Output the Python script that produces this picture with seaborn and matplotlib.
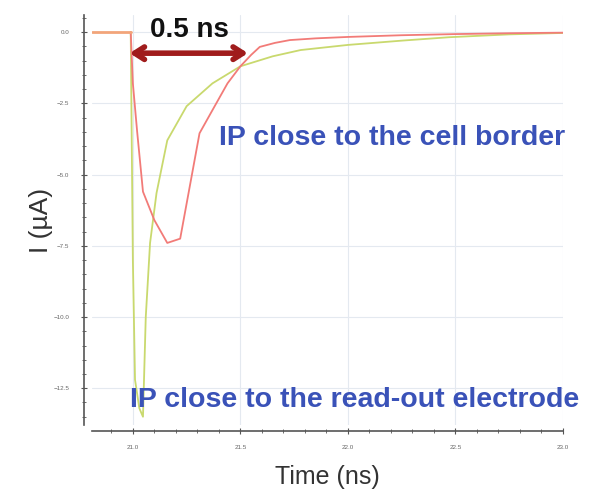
import matplotlib
matplotlib.use("Agg")
import matplotlib.pyplot as plt
from matplotlib.ticker import MultipleLocator
import seaborn as sns

# time (ns) and current (uA)
base_t = [20.81, 20.99]
base_i = [0.0, 0.0]

border_t = [20.99, 21.0, 21.02, 21.047, 21.1, 21.16, 21.22, 21.265, 21.31, 21.37, 21.44,
            21.5, 21.55, 21.59, 21.66, 21.73, 21.85, 22.0, 22.25, 22.5, 22.75, 23.0]
border_i = [0.0, -1.8, -3.5, -5.6, -6.6, -7.4, -7.25, -5.4, -3.55, -2.74, -1.8,
            -1.2, -0.8, -0.52, -0.38, -0.28, -0.22, -0.17, -0.11, -0.07, -0.04, -0.02]

electrode_t = [20.99, 21.0, 21.01, 21.03, 21.047, 21.06, 21.08, 21.11, 21.16, 21.25, 21.37,
               21.5, 21.65, 21.78, 22.0, 22.25, 22.47, 22.75, 23.0]
electrode_i = [0.0, -8.0, -12.2, -13.2, -13.5, -10.0, -7.4, -5.65, -3.8, -2.6, -1.8,
               -1.2, -0.85, -0.63, -0.45, -0.3, -0.18, -0.08, -0.03]

sns.set_style("white")
plt.rcParams["font.family"] = ["Liberation Sans", "DejaVu Sans"]

fig = plt.figure(figsize=(6.07, 4.94), dpi=100)
ax = fig.add_axes([92 / 607, 69 / 494, 471 / 607, 410 / 494])

sns.lineplot(x=electrode_t, y=electrode_i, ax=ax, color="#c9d96e", lw=1.3, sort=False)
sns.lineplot(x=border_t, y=border_i, ax=ax, color="#f27b78", lw=1.3, sort=False)
sns.lineplot(x=base_t, y=base_i, ax=ax, color="#f2a57a", lw=2, sort=False)

ax.set_xlim(20.81, 23.0)
ax.set_ylim(-13.79, 0.6)
ax.xaxis.set_major_locator(MultipleLocator(0.5))
ax.xaxis.set_minor_locator(MultipleLocator(0.1))
ax.yaxis.set_major_locator(MultipleLocator(2.5))
ax.yaxis.set_minor_locator(MultipleLocator(0.5))
ax.grid(True, which="major", color="#e4e9f0", lw=0.8)
ax.tick_params(which="major", direction="inout", length=5, width=0.8, pad=8,
               labelsize=4.5, labelcolor="#666666", color="#555555", bottom=True, left=True)
ax.tick_params(which="minor", direction="inout", length=3, width=0.6,
               color="#555555", bottom=True, left=True)

sns.despine(ax=ax, offset={"left": 6, "bottom": 4})
ax.spines["left"].set_color("#555555")
ax.spines["bottom"].set_color("#555555")
ax.spines["left"].set_linewidth(1.2)
ax.spines["bottom"].set_linewidth(1.2)

ax.set_xlabel("Time (ns)", fontsize=18, color="#333333", labelpad=11)
ax.set_ylabel("I (µA)", fontsize=19, color="#333333", labelpad=0)

ax.annotate("", xy=(20.985, -0.74), xytext=(21.535, -0.74),
            arrowprops=dict(arrowstyle="<->, head_length=0.7, head_width=0.45",
                            color="#a01c1c", lw=4, shrinkA=0, shrinkB=0))
ax.text(21.265, 0.07, "0.5 ns", fontsize=20, fontweight="bold", color="#111111",
        ha="center", va="center")
ax.text(21.4, -3.7, "IP close to the cell border", fontsize=20.5, fontweight="bold",
        color="#3a52b8", ha="left", va="center")
ax.text(20.985, -12.9, "IP close to the read-out electrode", fontsize=20.5, fontweight="bold",
        color="#3a52b8", ha="left", va="center")

fig.savefig("out.png", dpi=100)
